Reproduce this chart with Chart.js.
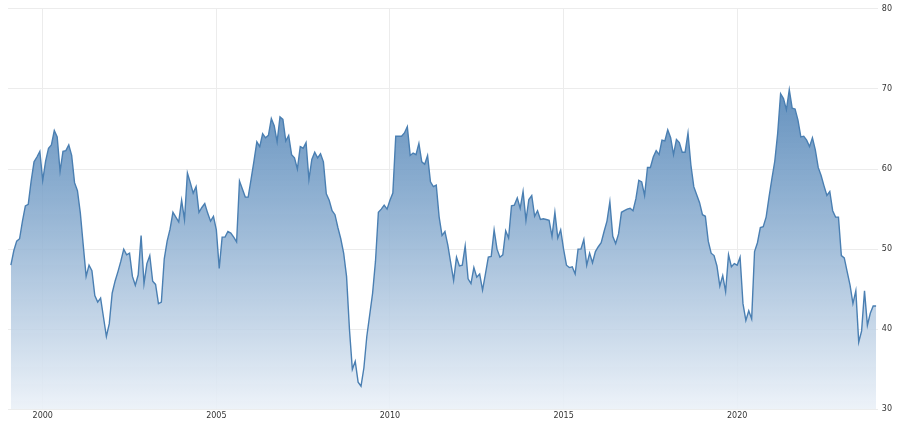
<!DOCTYPE html>
<html>
<head>
<meta charset="utf-8">
<script src="https://cdn.jsdelivr.net/npm/chart.js@4"></script>
<style>
  html, body { margin: 0; padding: 0; background: #fff; }
  #wrap { width: 900px; height: 423px; }
</style>
</head>
<body>
<div id="wrap"><canvas id="c"></canvas></div>
<script>
// monthly values, first one is Feb 1999
const startYear = 1999
const startMonth = 1
const values = [
  48.0,49.8,51.0,51.3,53.5,55.4,55.6,58.5,60.9,61.5,62.2,
  58.6,61.0,62.6,63.0,64.8,64.0,59.7,62.2,62.3,63.0,61.7,58.3,
  57.3,54.5,50.5,46.6,48.0,47.3,44.2,43.4,43.9,41.5,39.1,40.7,
  44.5,46.0,47.2,48.5,50.0,49.3,49.5,46.6,45.5,46.8,51.7,45.7,
  48.2,49.2,46.0,45.6,43.2,43.4,48.8,51.0,52.5,54.6,54.0,53.4,
  56.1,53.7,59.5,58.3,57.0,57.8,54.6,55.2,55.7,54.5,53.5,54.1,
  52.4,47.6,51.5,51.5,52.2,52.0,51.5,50.9,58.5,57.5,56.5,56.5,
  58.7,61.0,63.4,62.8,64.4,63.9,64.2,66.3,65.4,63.4,66.5,66.2,
  63.5,64.2,61.8,61.4,60.0,62.8,62.6,63.3,58.7,61.2,62.1,61.4,
  61.9,60.9,56.9,56.1,54.8,54.3,52.7,51.3,49.5,46.6,40.0,35.0,
  36.0,33.4,32.9,35.2,39.1,41.8,44.5,48.5,54.6,55.0,55.5,55.0,
  56.1,57.0,64.1,64.1,64.1,64.5,65.3,61.7,62.0,61.8,63.2,60.9,
  60.6,61.7,58.4,57.8,58.0,54.0,51.7,52.2,50.5,48.3,46.1,49.0,
  47.9,48.0,50.4,46.3,45.7,47.7,46.5,46.9,44.9,46.9,49.0,49.1,
  52.4,50.0,49.0,49.3,52.3,51.4,55.4,55.5,56.4,55.1,57.2,53.6,
  56.2,56.7,54.1,54.8,53.7,53.8,53.7,53.6,51.6,54.6,51.4,52.4,
  50.0,48.0,47.7,47.8,46.9,50.0,50.0,51.2,48.0,49.5,48.3,49.7,
  50.3,50.8,52.2,53.5,55.9,51.6,50.7,51.9,54.6,54.8,55.0,55.1,
  54.8,56.3,58.6,58.4,56.7,60.2,60.2,61.5,62.3,61.8,63.6,63.5,
  64.9,63.9,61.8,63.7,63.3,62.1,62.1,64.5,60.5,57.8,56.8,55.8,
  54.3,54.1,51.0,49.5,49.2,47.9,45.4,46.7,44.7,49.3,47.8,48.2,
  48.0,49.0,43.2,41.1,42.3,41.3,49.7,50.8,52.7,52.8,54.0,56.5,
  58.8,61.0,64.5,69.4,68.8,67.4,69.9,67.6,67.5,66.1,64.0,64.1,
  63.6,62.8,63.9,62.4,60.2,59.2,57.9,56.7,57.2,54.8,54.0,54.0,
  49.2,48.9,47.2,45.5,43.2,44.8,38.4,39.8,44.8,40.5,42.0,42.9,
  42.9
]
const yearTicks = [2000, 2005, 2010, 2015, 2020]
const yTicks = [30, 40, 50, 60, 70, 80]

const points = values.map((v, i) => ({ x: startYear + (startMonth + i) / 12, y: v }))

const ctx = document.getElementById('c')
new Chart(ctx, {
  type: 'line',
  data: {
    datasets: [{
      data: points,
      borderColor: '#4a7fb2',
      borderWidth: 1.4,
      pointRadius: 0,
      tension: 0,
      fill: 'start',
      backgroundColor: function (context) {
        const area = context.chart.chartArea
        if (!area) return 'rgba(74,127,178,0.5)'
        const g = context.chart.ctx.createLinearGradient(0, area.top, 0, area.bottom)
        g.addColorStop(0, 'rgba(62,117,172,0.98)')
        g.addColorStop(0.45, 'rgba(120,160,200,0.85)')
        g.addColorStop(1, 'rgba(235,241,248,0.9)')
        return g
      }
    }]
  },
  options: {
    responsive: true,
    maintainAspectRatio: false,
    animation: false,
    layout: { padding: { left: 8, right: 4, top: 4, bottom: 0 } },
    plugins: { legend: { display: false }, tooltip: { enabled: false } },
    scales: {
      x: {
        type: 'linear',
        min: 1999.0,
        max: 2024.05,
        afterBuildTicks: axis => { axis.ticks = yearTicks.map(v => ({ value: v })) },
        ticks: { font: { size: 8, family: 'DejaVu Sans' }, color: '#333', padding: 2,
          maxRotation: 0, callback: v => String(v) },
        grid: { color: '#ececec', drawTicks: false },
        border: { display: false }
      },
      y: {
        position: 'right',
        min: 30,
        max: 80,
        afterBuildTicks: axis => { axis.ticks = yTicks.map(v => ({ value: v })) },
        ticks: { font: { size: 8, family: 'DejaVu Sans' }, color: '#333', padding: 4 },
        grid: { color: '#ececec', drawTicks: false },
        border: { display: false }
      }
    }
  }
})
</script>
</body>
</html>
